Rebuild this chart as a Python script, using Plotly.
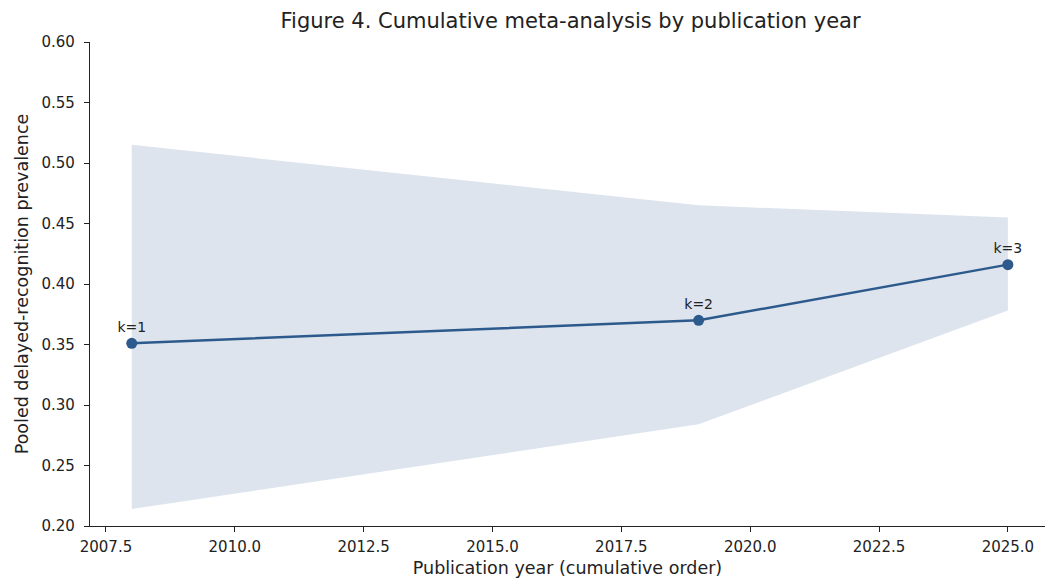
import plotly.graph_objects as go

# Cumulative pooled estimates by publication year
years = [2008, 2019, 2025]
pooled = [0.351, 0.370, 0.416]
ci_low = [0.214, 0.284, 0.378]
ci_high = [0.515, 0.465, 0.455]
k_labels = ["k=1", "k=2", "k=3"]

x_ticks = [2007.5, 2010.0, 2012.5, 2015.0, 2017.5, 2020.0, 2022.5, 2025.0]
y_ticks = [0.20, 0.25, 0.30, 0.35, 0.40, 0.45, 0.50, 0.55, 0.60]

line_color = "#2d5a8c"
band_color = "rgba(45,90,140,0.16)"
font_family = "DejaVu Sans"

fig = go.Figure()

# Confidence band
fig.add_trace(go.Scatter(
    x=years, y=ci_low, mode="lines", line=dict(width=0),
    hoverinfo="skip", showlegend=False,
))
fig.add_trace(go.Scatter(
    x=years, y=ci_high, mode="lines", line=dict(width=0),
    fill="tonexty", fillcolor=band_color,
    hoverinfo="skip", showlegend=False,
))

# Pooled estimate line with k labels
fig.add_trace(go.Scatter(
    x=years, y=pooled, mode="lines+markers+text",
    line=dict(color=line_color, width=2.5),
    marker=dict(color=line_color, size=11),
    text=k_labels, textposition="top center",
    textfont=dict(family=font_family, size=14, color="#222"),
    showlegend=False,
))

axis_common = dict(
    showgrid=False, zeroline=False, showline=True,
    linecolor="#222", linewidth=1.2,
    ticks="outside", ticklen=5, tickcolor="#222",
    tickfont=dict(family=font_family, size=15, color="#222"),
    mirror=False,
)

fig.update_xaxes(
    range=[2007.19, 2025.72],
    tickvals=x_ticks, ticktext=[f"{v:.1f}" for v in x_ticks],
    ticklabelstandoff=2,
    title=dict(text="Publication year (cumulative order)",
               font=dict(family=font_family, size=17.5, color="#222"),
               standoff=6),
    **axis_common,
)
fig.update_yaxes(
    range=[0.20, 0.60],
    tickvals=y_ticks, ticktext=[f"{v:.2f}" for v in y_ticks],
    ticklabelstandoff=6,
    title=dict(text="Pooled delayed-recognition prevalence",
               font=dict(family=font_family, size=17.5, color="#222"),
               standoff=8),
    **axis_common,
)

fig.update_layout(
    width=1045, height=585,
    margin=dict(l=90, r=0, t=42, b=59),
    paper_bgcolor="white", plot_bgcolor="white",
    title=dict(text="Figure 4. Cumulative meta-analysis by publication year",
               x=0.546, xanchor="center", y=0.965, yanchor="middle",
               font=dict(family=font_family, size=21, color="#222")),
)

fig.write_html("out.html")
